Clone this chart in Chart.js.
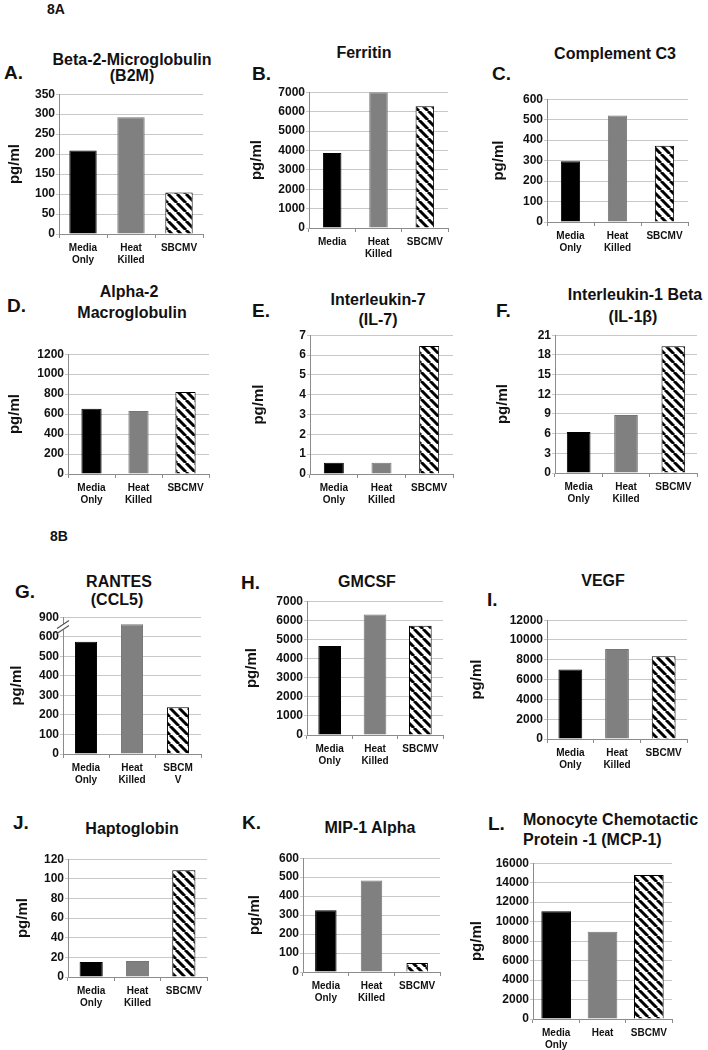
<!DOCTYPE html>
<html>
<head>
<meta charset="utf-8">
<script src="https://cdn.jsdelivr.net/npm/chart.js@4.4.1/dist/chart.umd.min.js"></script>
<style>
    body { margin: 0; width: 708px; height: 1050px; position: relative; overflow: hidden; background: #fff;
           font-family: Arial, "Liberation Sans", sans-serif; font-weight: bold; color: #111; }
    .txt { position: absolute; white-space: nowrap; }
    canvas { position: absolute; }
</style>
</head>
<body>
<script>
    //------------------------------------------Datos------------------------------------------------------------------

    const labelsStd = [["Media", "Only"], ["Heat", "Killed"], "SBCMV"];
    const labelsB = ["Media", ["Heat", "Killed"], "SBCMV"];
    const labelsG = [["Media", "Only"], ["Heat", "Killed"], ["SBCM", "V"]];
    const labelsL = [["Media", "Only"], "Heat", "SBCMV"];

    const b2m = [209, 292, 104];
    const ferritin = [3870, 7000, 6280];
    const complementC3 = [297, 520, 372];
    const alpha2Macro = [654, 631, 822];
    const il7 = [0.57, 0.57, 6.45];
    const il1b = [6.25, 8.85, 19.3];
    const rantes = [574, 792, 239];
    const gmcsf = [4650, 6300, 5710];
    const vegf = [7030, 9080, 8370];
    const haptoglobin = [15.3, 16.3, 108.8];
    const mip1a = [326, 483, 47];
    const mcp1 = [11060, 8950, 14800];

    // eje con corte: 0..600 normal, luego 600 -> 900 comprimido
    const rantesTicks = ["0", "100", "200", "300", "400", "500", "600", "900"];

    //------------------------------------------Funciones------------------------------------------------------------------

    Chart.defaults.font.family = 'Arial, "Liberation Sans", sans-serif';
    Chart.defaults.font.weight = 'bold';
    Chart.defaults.color = '#111';

    function brokenAxis(v) {
        return v <= 600 ? v : 600 + (v - 600) / 3;
    }

    function hatchPattern() {
        let s = 9;
        let c = document.createElement('canvas');
        c.width = s; c.height = s;
        let g = c.getContext('2d');
        g.fillStyle = '#fff';
        g.fillRect(0, 0, s, s);
        g.strokeStyle = '#000';
        g.lineWidth = 3;
        g.beginPath();
        for (let k = -1; k <= 1; k++) {
            g.moveTo(k * s, 0);
            g.lineTo(k * s + s, s);
        }
        g.stroke();
        return g.createPattern(c, 'repeat');
    }
    const hatch = hatchPattern();

    const axisBreak = {
        id: 'axisBreak',
        afterDraw(chart) {
            if (!chart.options.axisBreak) return;
            let ctx = chart.ctx;
            let x = chart.chartArea.left;
            let ym = chart.scales.y.getPixelForValue(650);
            ctx.save();
            ctx.fillStyle = '#fff';
            ctx.fillRect(x - 2, ym - 3, 4, 6);
            ctx.strokeStyle = '#555';
            ctx.lineWidth = 1.2;
            ctx.beginPath();
            for (const d of [-2.5, 2.5]) {
                ctx.moveTo(x - 6, ym + d + 4);
                ctx.lineTo(x + 6, ym + d - 4);
            }
            ctx.stroke();
            ctx.restore();
        }
    };

    // ax: eje y, top: linea superior, zero: linea 0, right: borde derecho, pg: centro de "pg/ml"
    const panels = [
        { data: b2m, labels: labelsStd, max: 350, step: 50, ax: 59, top: 94, zero: 234, right: 203, pg: 15, bar: 0.57 },
        { data: ferritin, labels: labelsB, max: 7000, step: 1000, ax: 309, top: 92, zero: 228, right: 448, pg: 257, bar: 0.4 },
        { data: complementC3, labels: labelsStd, max: 600, step: 100, ax: 547, top: 99, zero: 222, right: 688, pg: 499, bar: 0.41 },
        { data: alpha2Macro, labels: labelsStd, max: 1200, step: 200, ax: 68, top: 354, zero: 474, right: 209, pg: 15, bar: 0.43 },
        { data: il7, labels: labelsStd, max: 7, step: 1, ax: 310, top: 335, zero: 474, right: 453, pg: 259, bar: 0.42 },
        { data: il1b, labels: labelsStd, max: 21, step: 3, ax: 555, top: 335, zero: 473, right: 697, pg: 503, bar: 0.5 },
        { data: rantes, labels: labelsG, max: 700, step: 100, ax: 63, top: 617, zero: 754, right: 201, pg: 17, bar: 0.48, broken: true },
        { data: gmcsf, labels: labelsStd, max: 7000, step: 1000, ax: 307, top: 601, zero: 735, right: 443, pg: 252, bar: 0.5 },
        { data: vegf, labels: labelsStd, max: 12000, step: 2000, ax: 547, top: 620, zero: 739, right: 687, pg: 477, bar: 0.51 },
        { data: haptoglobin, labels: labelsStd, max: 120, step: 20, ax: 68, top: 859, zero: 977, right: 207, pg: 23, bar: 0.5 },
        { data: mip1a, labels: labelsStd, max: 600, step: 100, ax: 303, top: 858, zero: 972, right: 440, pg: 255, bar: 0.47 },
        { data: mcp1, labels: labelsL, max: 16000, step: 2000, ax: 533, top: 863, zero: 1019, right: 672, pg: 477, bar: 0.64 }
    ];

    const texts = [
        ["8A", 47, 9, 'l', 14], ["8B", 50, 536, 'l', 14],
        ["A.", 4, 72, 'l', 19], ["B.", 252, 73, 'l', 19], ["C.", 492, 73, 'l', 19],
        ["D.", 7, 305, 'l', 19], ["E.", 252, 310, 'l', 19], ["F.", 496, 310, 'l', 19],
        ["G.", 15, 591, 'l', 19], ["H.", 241, 582, 'l', 19], ["I.", 487, 599, 'l', 19],
        ["J.", 13, 822, 'l', 19], ["K.", 242, 822, 'l', 19], ["L.", 488, 823, 'l', 19],
        ["Beta-2-Microglobulin", 132, 60, 'c', 16], ["(B2M)", 132, 76, 'c', 16],
        ["Ferritin", 364, 53, 'c', 16],
        ["Complement C3", 615, 54, 'c', 16],
        ["Alpha-2", 129, 292, 'c', 16], ["Macroglobulin", 132, 313, 'c', 16],
        ["Interleukin-7", 378, 300, 'c', 16], ["(IL-7)", 378, 320, 'c', 16],
        ["Interleukin-1 Beta", 635, 295, 'c', 16], ["(IL-1β)", 633, 317, 'c', 16],
        ["RANTES", 119, 582, 'c', 16], ["(CCL5)", 117, 600, 'c', 16],
        ["GMCSF", 367, 582, 'c', 16],
        ["VEGF", 603, 581, 'c', 16],
        ["Haptoglobin", 132, 829, 'c', 16],
        ["MIP-1 Alpha", 370, 828, 'c', 16],
        ["Monocyte Chemotactic", 523, 820, 'l', 16], ["Protein -1 (MCP-1)", 523, 840, 'l', 16]
    ];

    function addText(t) {
        let d = document.createElement('div');
        d.className = 'txt';
        d.innerText = t[0];
        d.style.left = t[1] + 'px';
        d.style.top = t[2] + 'px';
        d.style.fontSize = t[4] + 'px';
        d.style.lineHeight = t[4] + 'px';
        d.style.transform = t[3] == 'c' ? 'translate(-50%,-50%)' : 'translate(0,-50%)';
        document.body.appendChild(d);
    }

    function makeChart(p) {
        let padTop = 8, padRight = 6, bottomH = 38;
        let left = p.pg - 9;
        let w = p.right + padRight - left;
        let h = p.zero - p.top + padTop + bottomH;
        let top = p.top - padTop;

        let cv = document.createElement('canvas');
        cv.width = w; cv.height = h;
        cv.style.left = left + 'px';
        cv.style.top = top + 'px';
        cv.style.width = w + 'px';
        cv.style.height = h + 'px';
        document.body.appendChild(cv);

        let values = p.broken ? p.data.map(brokenAxis) : p.data;

        new Chart(cv, {
            type: 'bar',
            data: {
                labels: p.labels,
                datasets: [{
                    data: values,
                    backgroundColor: ['#000', '#808080', hatch],
                    borderColor: ['#000', '#757575', '#000'],
                    borderWidth: 1,
                    barPercentage: p.bar,
                    categoryPercentage: 1
                }]
            },
            plugins: [axisBreak],
            options: {
                axisBreak: !!p.broken,
                responsive: false,
                animation: false,
                devicePixelRatio: 1,
                layout: { padding: { top: padTop, right: padRight, left: 0, bottom: 0 } },
                plugins: { legend: { display: false }, tooltip: { enabled: false } },
                scales: {
                    x: {
                        grid: { drawOnChartArea: false, tickLength: 4, color: '#8c8c8c' },
                        border: { color: '#8c8c8c' },
                        ticks: { font: { size: 10, weight: 'bold' }, color: '#111', padding: 4, maxRotation: 0, autoSkip: false },
                        afterFit: function (s) { s.height = bottomH; }
                    },
                    y: {
                        min: 0,
                        max: p.max,
                        ticks: {
                            stepSize: p.step,
                            font: { size: 12, weight: 'bold' },
                            color: '#111',
                            padding: 1,
                            callback: function (v, i) { return p.broken ? rantesTicks[i] : String(v); }
                        },
                        grid: { color: '#c8c8c8', tickLength: 3 },
                        border: { color: '#8c8c8c' },
                        title: { display: true, text: 'pg/ml', font: { size: 15, weight: 'bold' }, padding: 0, color: '#111' },
                        afterFit: function (s) { s.width = p.ax - left; }
                    }
                }
            }
        });
    }

    texts.forEach(addText);
    panels.forEach(makeChart);
</script>
</body>
</html>
